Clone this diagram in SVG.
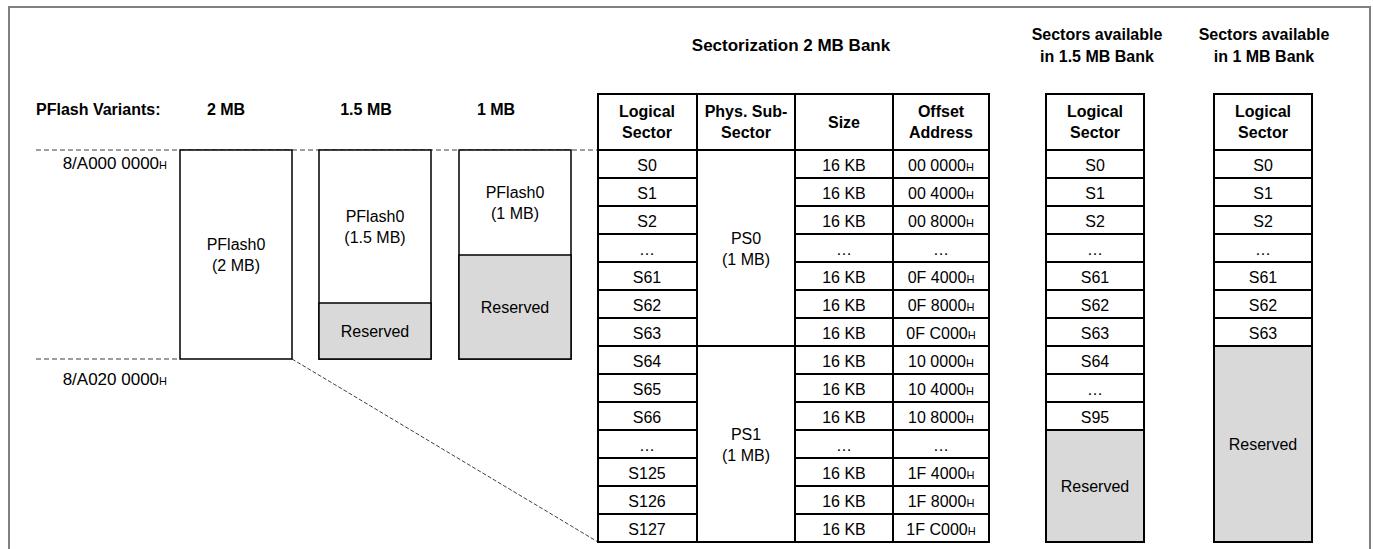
<svg xmlns="http://www.w3.org/2000/svg" width="1373" height="549" viewBox="0 0 1373 549">
<style>
text{font-family:"Liberation Sans",Arial,sans-serif;font-size:16px;fill:#000}
.b{font-weight:bold}
.m{text-anchor:middle}
.e{text-anchor:end}
.a{font-size:17px}
.h{font-size:11px}
.box{fill:#fff;stroke:#000;stroke-width:1.5}
.res{fill:#d9d9d9;stroke:#000;stroke-width:1.5}
.tb{fill:none;stroke:#000;stroke-width:2}
.ln{stroke:#000;stroke-width:2}
.dash{stroke:#808080;stroke-width:1.5;stroke-dasharray:5,3;fill:none}
.dash2{stroke:#404040;stroke-width:1;stroke-dasharray:4,2;fill:none}
</style>
<rect x="9" y="7" width="1361" height="560" fill="#fff" stroke="#808080" stroke-width="2"/>

<g id="connectors">
<line class="dash" x1="36" y1="150" x2="598" y2="150"/>
<line class="dash" x1="36" y1="359" x2="180" y2="359"/>
<line class="dash2" x1="292" y1="359" x2="598" y2="542"/>
</g>

<g id="labels">
<text class="b" x="36" y="115">PFlash Variants:</text>
<text class="b m" x="226" y="115">2 MB</text>
<text class="b m" x="366" y="115">1.5 MB</text>
<text class="b m" x="496" y="115">1 MB</text>
<text class="e a" x="167" y="169">8/A000 0000<tspan class="h">H</tspan></text>
<text class="e a" x="167" y="385">8/A020 0000<tspan class="h">H</tspan></text>
<text class="b m a" x="791" y="51">Sectorization 2 MB Bank</text>
<text class="b m" x="1097" y="40">Sectors available</text>
<text class="b m" x="1097" y="62">in 1.5 MB Bank</text>
<text class="b m" x="1264" y="40">Sectors available</text>
<text class="b m" x="1264" y="62">in 1 MB Bank</text>
</g>

<g id="pflash-2mb">
<rect class="box" x="180" y="150" width="112" height="209"/>
<text class="m" x="236" y="250">PFlash0</text>
<text class="m" x="236" y="271">(2 MB)</text>
</g>

<g id="pflash-1-5mb">
<rect class="box" x="319" y="150" width="112" height="209"/>
<rect class="res" x="319" y="303" width="112" height="56"/>
<text class="m" x="375" y="222">PFlash0</text>
<text class="m" x="375" y="243">(1.5 MB)</text>
<text class="m" x="375" y="337">Reserved</text>
</g>

<g id="pflash-1mb">
<rect class="box" x="459" y="150" width="112" height="209"/>
<rect class="res" x="459" y="255" width="112" height="104"/>
<text class="m" x="515" y="198">PFlash0</text>
<text class="m" x="515" y="219">(1 MB)</text>
<text class="m" x="515" y="313">Reserved</text>
</g>

<g id="table-2mb">
<rect x="598" y="94" width="391" height="448" fill="#fff"/>
<path class="ln" d="M697 94V542M795 94V542M893 94V542M598 150H989M598 346H989
M598 178H697M598 206H697M598 234H697M598 262H697M598 290H697M598 318H697
M598 374H697M598 402H697M598 430H697M598 458H697M598 486H697M598 514H697
M795 178H989M795 206H989M795 234H989M795 262H989M795 290H989M795 318H989
M795 374H989M795 402H989M795 430H989M795 458H989M795 486H989M795 514H989"/>
<rect class="tb" x="598" y="94" width="391" height="448"/>
<text class="b m" x="647" y="117">Logical</text>
<text class="b m" x="647" y="138">Sector</text>
<text class="b m" x="746" y="117">Phys. Sub-</text>
<text class="b m" x="746" y="138">Sector</text>
<text class="b m" x="844" y="128">Size</text>
<text class="b m" x="941" y="117">Offset</text>
<text class="b m" x="941" y="138">Address</text>
<text class="m" x="746" y="244">PS0</text>
<text class="m" x="746" y="265">(1 MB)</text>
<text class="m" x="746" y="440">PS1</text>
<text class="m" x="746" y="461">(1 MB)</text>
<g>
<text class="m" x="647" y="171">S0</text><text class="m" x="844" y="171">16 KB</text><text class="m" x="941" y="171">00 0000<tspan class="h">H</tspan></text>
<text class="m" x="647" y="199">S1</text><text class="m" x="844" y="199">16 KB</text><text class="m" x="941" y="199">00 4000<tspan class="h">H</tspan></text>
<text class="m" x="647" y="227">S2</text><text class="m" x="844" y="227">16 KB</text><text class="m" x="941" y="227">00 8000<tspan class="h">H</tspan></text>
<text class="m" x="647" y="255">…</text><text class="m" x="844" y="255">…</text><text class="m" x="941" y="255">…</text>
<text class="m" x="647" y="283">S61</text><text class="m" x="844" y="283">16 KB</text><text class="m" x="941" y="283">0F 4000<tspan class="h">H</tspan></text>
<text class="m" x="647" y="311">S62</text><text class="m" x="844" y="311">16 KB</text><text class="m" x="941" y="311">0F 8000<tspan class="h">H</tspan></text>
<text class="m" x="647" y="339">S63</text><text class="m" x="844" y="339">16 KB</text><text class="m" x="941" y="339">0F C000<tspan class="h">H</tspan></text>
<text class="m" x="647" y="367">S64</text><text class="m" x="844" y="367">16 KB</text><text class="m" x="941" y="367">10 0000<tspan class="h">H</tspan></text>
<text class="m" x="647" y="395">S65</text><text class="m" x="844" y="395">16 KB</text><text class="m" x="941" y="395">10 4000<tspan class="h">H</tspan></text>
<text class="m" x="647" y="423">S66</text><text class="m" x="844" y="423">16 KB</text><text class="m" x="941" y="423">10 8000<tspan class="h">H</tspan></text>
<text class="m" x="647" y="451">…</text><text class="m" x="844" y="451">…</text><text class="m" x="941" y="451">…</text>
<text class="m" x="647" y="479">S125</text><text class="m" x="844" y="479">16 KB</text><text class="m" x="941" y="479">1F 4000<tspan class="h">H</tspan></text>
<text class="m" x="647" y="507">S126</text><text class="m" x="844" y="507">16 KB</text><text class="m" x="941" y="507">1F 8000<tspan class="h">H</tspan></text>
<text class="m" x="647" y="535">S127</text><text class="m" x="844" y="535">16 KB</text><text class="m" x="941" y="535">1F C000<tspan class="h">H</tspan></text>
</g>
</g>

<g id="table-1-5mb">
<rect x="1046" y="94" width="98" height="448" fill="#fff"/>
<rect x="1046" y="430" width="98" height="112" fill="#d9d9d9"/>
<path class="ln" d="M1046 150H1144M1046 178H1144M1046 206H1144M1046 234H1144M1046 262H1144M1046 290H1144M1046 318H1144M1046 346H1144M1046 374H1144M1046 402H1144M1046 430H1144"/>
<rect class="tb" x="1046" y="94" width="98" height="448"/>
<text class="b m" x="1095" y="117">Logical</text>
<text class="b m" x="1095" y="138">Sector</text>
<text class="m" x="1095" y="171">S0</text>
<text class="m" x="1095" y="199">S1</text>
<text class="m" x="1095" y="227">S2</text>
<text class="m" x="1095" y="255">…</text>
<text class="m" x="1095" y="283">S61</text>
<text class="m" x="1095" y="311">S62</text>
<text class="m" x="1095" y="339">S63</text>
<text class="m" x="1095" y="367">S64</text>
<text class="m" x="1095" y="395">…</text>
<text class="m" x="1095" y="423">S95</text>
<text class="m" x="1095" y="492">Reserved</text>
</g>

<g id="table-1mb">
<rect x="1214" y="94" width="98" height="448" fill="#fff"/>
<rect x="1214" y="346" width="98" height="196" fill="#d9d9d9"/>
<path class="ln" d="M1214 150H1312M1214 178H1312M1214 206H1312M1214 234H1312M1214 262H1312M1214 290H1312M1214 318H1312M1214 346H1312"/>
<rect class="tb" x="1214" y="94" width="98" height="448"/>
<text class="b m" x="1263" y="117">Logical</text>
<text class="b m" x="1263" y="138">Sector</text>
<text class="m" x="1263" y="171">S0</text>
<text class="m" x="1263" y="199">S1</text>
<text class="m" x="1263" y="227">S2</text>
<text class="m" x="1263" y="255">…</text>
<text class="m" x="1263" y="283">S61</text>
<text class="m" x="1263" y="311">S62</text>
<text class="m" x="1263" y="339">S63</text>
<text class="m" x="1263" y="450">Reserved</text>
</g>
</svg>
